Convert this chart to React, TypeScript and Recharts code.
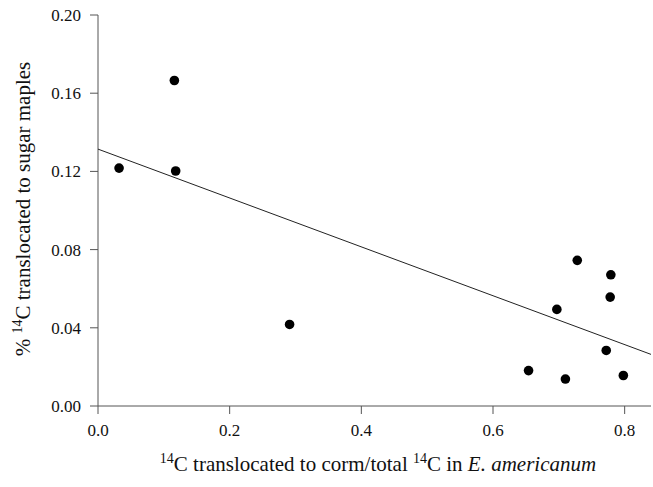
import { Scatter, ScatterChart, XAxis, YAxis } from "recharts";

// measured points: fraction of 14C in corm vs % 14C reaching sugar maples
const cormFraction = [0.032, 0.116, 0.118, 0.291, 0.654, 0.697, 0.71, 0.728, 0.772, 0.778, 0.779, 0.798];
const mapleShare = [0.1217, 0.1665, 0.1202, 0.0417, 0.0181, 0.0494, 0.0138, 0.0745, 0.0284, 0.0557, 0.0671, 0.0156];

// fitted regression line, drawn between its two ends
const fitX = [0, 0.84];
const fitY = [0.1314, 0.0264];

const xTicks = [0, 0.2, 0.4, 0.6, 0.8];
const yTicks = [0, 0.04, 0.08, 0.12, 0.16, 0.2];

const points = cormFraction.map((x, i) => ({ x, y: mapleShare[i] }));
const fitLine = fitX.map((x, i) => ({ x, y: fitY[i] }));

const font = "Liberation Serif, DejaVu Serif, serif";
const axisColor = "#555";

const Dot = (props: any) => <circle cx={props.cx} cy={props.cy} r={4.8} fill="#000" />;
const NoDot = () => <g />;

export default function App() {
  return (
    <div style={{ position: "absolute", left: 0, top: 0, background: "#fff", fontFamily: font }}>
      <ScatterChart
        width={653}
        height={487}
        margin={{ top: 15, right: 2, left: 0, bottom: 0 }}
        style={{ fontFamily: font }}
      >
        <XAxis
          type="number"
          dataKey="x"
          domain={[0, 0.84]}
          ticks={xTicks}
          tickFormatter={(v: number) => v.toFixed(1)}
          height={81}
          stroke={axisColor}
          tickSize={8}
          tickMargin={10}
          tick={{ style: { fontFamily: font }, fontSize: 17, fill: "#111" }}
          label={{
            content: () => (
              <text x={378} y={471} textAnchor="middle" style={{ fontFamily: font }} fontSize={21} fill="#111">
                <tspan fontSize={14} dy={-8}>14</tspan>
                <tspan dy={8}>C translocated to corm/total </tspan>
                <tspan fontSize={14} dy={-8}>14</tspan>
                <tspan dy={8}>C in </tspan>
                <tspan fontStyle="italic">E. americanum</tspan>
              </text>
            ),
          }}
        />
        <YAxis
          type="number"
          dataKey="y"
          domain={[0, 0.2]}
          ticks={yTicks}
          tickFormatter={(v: number) => v.toFixed(2)}
          width={98}
          stroke={axisColor}
          tickSize={8}
          tickMargin={9}
          tick={{ style: { fontFamily: font }, fontSize: 17, fill: "#111" }}
          label={{
            content: () => (
              <text
                x={30}
                y={209}
                transform="rotate(-90 30 209)"
                textAnchor="middle"
                style={{ fontFamily: font }}
                fontSize={21}
                fill="#111"
              >
                <tspan>% </tspan>
                <tspan fontSize={14} dy={-8}>14</tspan>
                <tspan dy={8}>C translocated to sugar maples</tspan>
              </text>
            ),
          }}
        />
        <Scatter
          data={fitLine}
          line={{ stroke: "#222", strokeWidth: 1 }}
          shape={NoDot}
          isAnimationActive={false}
        />
        <Scatter data={points} shape={Dot} isAnimationActive={false} />
      </ScatterChart>
    </div>
  );
}
